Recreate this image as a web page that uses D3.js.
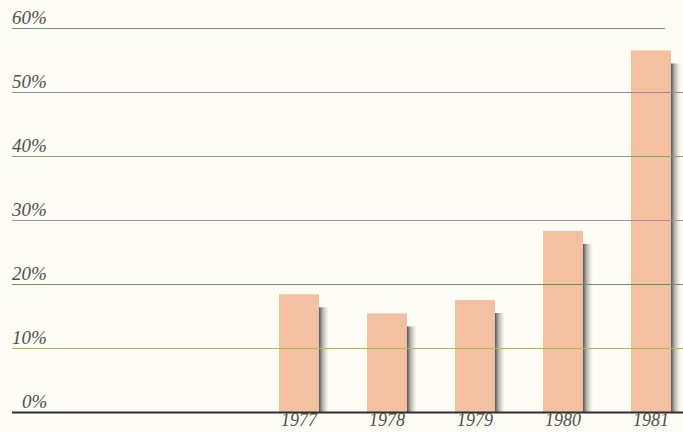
<!DOCTYPE html>
<html>
<head>
<meta charset="utf-8">
<script src="https://cdn.jsdelivr.net/npm/d3@7"></script>
<style>
  html, body { margin: 0; padding: 0; background: #fdfdf6; }
  svg { display: block; }
</style>
</head>
<body>
<svg id="chart" width="683" height="432"></svg>
<script>
// Share of total, by year
const years = ["1977", "1978", "1979", "1980", "1981"];
const values = [18.4, 15.4, 17.5, 28.3, 56.5];
const tickValues = [0, 10, 20, 30, 40, 50, 60];
const tickLabels = ["0%", "10%", "20%", "30%", "40%", "50%", "60%"];
const gridColors = ["#2f2f33", "#a9b85c", "#6f8f5e", "#b58aa0", "#86a07a", "#b27c95", "#6f9a72"];

const svg = d3.select("#chart");
const W = 683, H = 432;

const y = d3.scaleLinear().domain([0, 60]).range([412, 28]);
const x = d3.scaleBand().domain(years).range([255, 695])
  .paddingInner(48 / 88).paddingOuter(24 / 88);

const defs = svg.append("defs");
const grad = defs.append("linearGradient").attr("id", "shade")
  .attr("x1", "0").attr("x2", "1").attr("y1", "0").attr("y2", "0");
grad.append("stop").attr("offset", "0").attr("stop-color", "#3e3d3a").attr("stop-opacity", 0.9);
grad.append("stop").attr("offset", "0.3").attr("stop-color", "#6b6a66").attr("stop-opacity", 0.6);
grad.append("stop").attr("offset", "1").attr("stop-color", "#b8b6ae").attr("stop-opacity", 0);

svg.append("rect").attr("width", W).attr("height", H).attr("fill", "#fdfdf6");

// drop shadow along the right side of each bar
svg.append("g").selectAll("rect").data(years).join("rect")
  .attr("x", d => x(d) + x.bandwidth())
  .attr("y", (d, i) => y(values[i]) + 13)
  .attr("width", 10)
  .attr("height", (d, i) => y(0) - y(values[i]) - 13)
  .attr("fill", "url(#shade)");

// bars
svg.append("g").selectAll("rect").data(years).join("rect")
  .attr("x", d => x(d))
  .attr("y", (d, i) => y(values[i]))
  .attr("width", x.bandwidth())
  .attr("height", (d, i) => y(0) - y(values[i]))
  .attr("fill", "#f4c1a0");

// horizontal rules, drawn over the bars
const grid = svg.append("g");
grid.selectAll("line").data(tickValues).join("line")
  .attr("x1", 12)
  .attr("x2", d => d === 60 ? 665 : 683)
  .attr("y1", d => y(d) + 0.5)
  .attr("y2", d => y(d) + 0.5)
  .attr("stroke", (d, i) => gridColors[i])
  .attr("stroke-width", d => d === 0 ? 2 : 1.2);

// y labels sit on their rule at the left
const yAxis = d3.axisLeft(y).tickValues(tickValues)
  .tickFormat((d, i) => tickLabels[i]).tickSize(0);
const ya = svg.append("g").call(yAxis);
ya.select(".domain").remove();
ya.selectAll("text")
  .attr("x", d => d === 0 ? 22 : 12)
  .attr("dy", "-0.22em")
  .attr("text-anchor", "start")
  .attr("fill", "#4f504a")
  .style("font-family", "'Liberation Serif', 'DejaVu Serif', serif")
  .style("font-style", "italic")
  .style("font-size", "19px");

// year labels
const xAxis = d3.axisBottom(x).tickSize(0);
const xa = svg.append("g").attr("transform", `translate(0,${y(0)})`).call(xAxis);
xa.select(".domain").remove();
xa.selectAll("text")
  .attr("y", 1)
  .attr("dy", "0.71em")
  .attr("fill", "#4f504a")
  .style("font-family", "'Liberation Serif', 'DejaVu Serif', serif")
  .style("font-style", "italic")
  .style("font-size", "18px");
</script>
</body>
</html>
